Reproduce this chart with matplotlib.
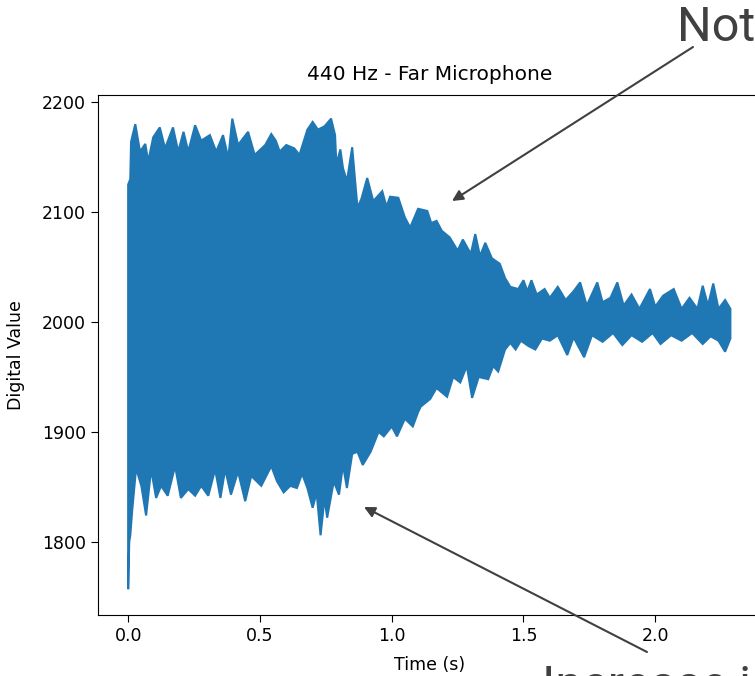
import numpy as np
import matplotlib
matplotlib.use("Agg")
import matplotlib.pyplot as plt
from matplotlib.patches import FancyArrowPatch

# upper envelope of the recording (time s, digital value)
top_t = [0.000, 0.008, 0.011, 0.027, 0.045, 0.065, 0.076, 0.095, 0.12, 0.14, 0.17, 0.19,
         0.21, 0.228, 0.254, 0.277, 0.31, 0.334, 0.36, 0.38, 0.395, 0.417, 0.455, 0.48,
         0.52, 0.543, 0.56, 0.575, 0.60, 0.63, 0.65, 0.68, 0.70, 0.72, 0.745, 0.77, 0.785,
         0.79, 0.805, 0.815, 0.83, 0.85, 0.87, 0.885, 0.907, 0.93, 0.964, 0.98, 0.994,
         1.025, 1.05, 1.07, 1.10, 1.135, 1.15, 1.17, 1.19, 1.22, 1.25, 1.27, 1.30, 1.317,
         1.335, 1.355, 1.38, 1.41, 1.43, 1.45, 1.48, 1.50, 1.515, 1.53, 1.55, 1.58, 1.60,
         1.63, 1.66, 1.69, 1.715, 1.74, 1.78, 1.80, 1.83, 1.856, 1.88, 1.91, 1.94, 1.98,
         2.00, 2.03, 2.07, 2.10, 2.13, 2.16, 2.18, 2.20, 2.22, 2.24, 2.265, 2.285]
top_v = [2125, 2130, 2164, 2180, 2155, 2162, 2146, 2168, 2177, 2158, 2177, 2155,
         2173, 2155, 2179, 2165, 2170, 2155, 2170, 2149, 2185, 2161, 2173, 2152,
         2161, 2171, 2165, 2155, 2161, 2158, 2152, 2175, 2182, 2175, 2178, 2185, 2170,
         2143, 2157, 2140, 2128, 2159, 2104, 2112, 2131, 2110, 2119, 2105, 2114,
         2113, 2095, 2086, 2103, 2101, 2090, 2092, 2083, 2077, 2065, 2075, 2062, 2080,
         2060, 2072, 2058, 2053, 2040, 2032, 2030, 2038, 2028, 2038, 2025, 2030, 2022,
         2032, 2020, 2028, 2036, 2015, 2036, 2018, 2022, 2036, 2015, 2025, 2012, 2030,
         2014, 2024, 2030, 2012, 2022, 2012, 2033, 2015, 2035, 2012, 2020, 2012]

# lower envelope
bot_t = [0.000, 0.004, 0.008, 0.015, 0.03, 0.05, 0.068, 0.087, 0.106, 0.125, 0.15, 0.178,
         0.20, 0.228, 0.254, 0.277, 0.304, 0.33, 0.35, 0.368, 0.39, 0.417, 0.444, 0.467,
         0.505, 0.543, 0.565, 0.59, 0.615, 0.64, 0.66, 0.68, 0.70, 0.715, 0.73, 0.745,
         0.755, 0.78, 0.80, 0.815, 0.83, 0.85, 0.87, 0.89, 0.92, 0.95, 0.97, 1.0, 1.02,
         1.05, 1.08, 1.10, 1.11, 1.146, 1.17, 1.21, 1.233, 1.26, 1.285, 1.305, 1.33,
         1.366, 1.385, 1.404, 1.43, 1.45, 1.47, 1.49, 1.52, 1.545, 1.57, 1.60, 1.63,
         1.666, 1.69, 1.73, 1.76, 1.80, 1.84, 1.875, 1.91, 1.95, 1.99, 2.02, 2.06, 2.10,
         2.14, 2.18, 2.21, 2.24, 2.265, 2.285]
bot_v = [1757, 1800, 1806, 1828, 1867, 1851, 1824, 1866, 1840, 1851, 1842, 1869,
         1840, 1848, 1842, 1851, 1842, 1866, 1840, 1866, 1843, 1864, 1837, 1860,
         1851, 1869, 1855, 1845, 1851, 1849, 1862, 1849, 1831, 1845, 1806, 1840,
         1822, 1855, 1843, 1870, 1849, 1880, 1882, 1870, 1882, 1900, 1896, 1905, 1896,
         1912, 1905, 1918, 1923, 1930, 1940, 1932, 1950, 1945, 1960, 1931, 1950,
         1948, 1960, 1955, 1975, 1981, 1975, 1983, 1978, 1975, 1985, 1983, 1988,
         1970, 1986, 1968, 1988, 1982, 1990, 1979, 1988, 1982, 1990, 1980, 1988, 1983,
         1990, 1980, 1987, 1983, 1973, 1985]

fig = plt.figure(figsize=(7.55, 6.76), dpi=100)
ax = fig.add_axes([98 / 755, 61 / 676, 664 / 755, 520 / 676])

# dense 440 Hz waveform drawn as the band between its envelopes
xs = np.concatenate([top_t, bot_t[::-1]])
ys = np.concatenate([top_v, bot_v[::-1]])
ax.fill(xs, ys, color="#1f77b4", lw=1.5, edgecolor="#1f77b4")

ax.set_xlim(-0.1145, 2.405)
ax.set_ylim(1733.5, 2206.5)
ax.set_xticks([0.0, 0.5, 1.0, 1.5, 2.0])
ax.set_yticks([1800, 1900, 2000, 2100, 2200])
ax.tick_params(labelsize=12.5, length=5)
ax.set_title("440 Hz - Far Microphone", fontsize=14.5, pad=11)
ax.set_xlabel("Time (s)", fontsize=12.5, labelpad=8)
ax.set_ylabel("Digital Value", fontsize=12.5, labelpad=12)

# slide annotations around the chart
fig.text(677 / 755, 1 - 41 / 676, "Not", fontsize=35, family="Roboto", color="#404040")
fig.text(542 / 755, 1 - 700 / 676, "Increase i", fontsize=35, family="Roboto", color="#404040")
arrow = dict(arrowstyle="-|>", color="#404040", lw=1.5, mutation_scale=16, shrinkA=0, shrinkB=0)
fig.add_artist(FancyArrowPatch((693, 629), (452, 475), transform=None, **arrow))
fig.add_artist(FancyArrowPatch((647, 24), (364, 169), transform=None, **arrow))

fig.savefig("out.png", dpi=100)
